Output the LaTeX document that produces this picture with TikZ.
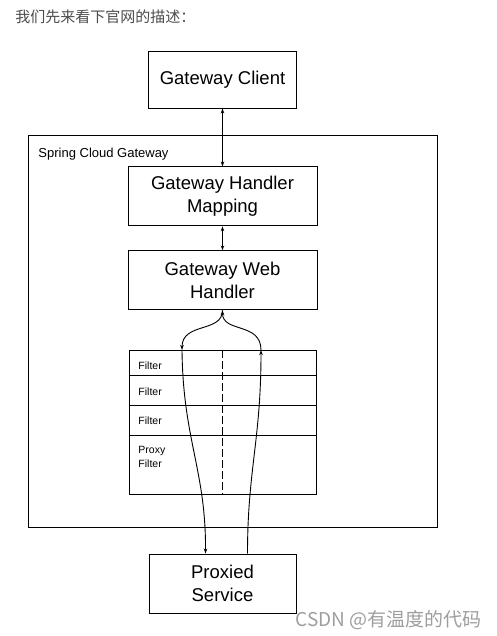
\documentclass[tikz,border=0pt]{standalone}
\usepackage{fontspec}
\setmainfont{Liberation Sans}
\newfontfamily\cjk{Noto Sans CJK SC}
\usetikzlibrary{arrows.meta,positioning}

\begin{document}
\begin{tikzpicture}[
  x=1pt,y=-1pt,line width=0.9pt,
  box/.style={draw,align=center,minimum width=148pt,minimum height=57pt,
              inner sep=2pt,font=\fontsize{18.5}{23}\selectfont},
  wide/.style={box,minimum width=189pt,minimum height=59pt},
  row/.style={draw,minimum width=187pt,inner sep=0pt,outer sep=0pt},
  lbl/.style={anchor=base west,inner sep=0pt,font=\fontsize{10.5}{14}\selectfont},
  ar/.style={-{Stealth[length=5pt,width=3.5pt]}},
  dar/.style={{Stealth[length=5pt,width=3.5pt]}-{Stealth[length=5pt,width=3.5pt]}}
]
\useasboundingbox (0,0) rectangle (497,636);

\node[anchor=base west,inner sep=0pt,text=black!70,
      font=\cjk\fontsize{15}{18}\selectfont] (title) at (15,23) {我们先来看下官网的描述：};

\node[box] (client) at (222.5,79.5) {Gateway Client};
\node[draw,minimum width=409pt,minimum height=392pt] (scg) at (232.5,331) {};
\node[lbl,font=\fontsize{13}{15}\selectfont] (scglbl) at (38,158) {Spring Cloud Gateway};
\node[wide,below=58pt of client] (mapping) {Gateway Handler\\Mapping};
\node[wide,below=24pt of mapping] (web) {Gateway Web\\Handler};

% filter chain
\node[row,minimum height=25pt,anchor=north] (f1) at (222.5,350) {};
\node[row,minimum height=30pt,below=0pt of f1] (f2) {};
\node[row,minimum height=30pt,below=0pt of f2] (f3) {};
\node[row,minimum height=59pt,below=0pt of f3] (f4) {};
\node[lbl] (t1) at (138,369) {Filter};
\node[lbl] (t2) at (138,395) {Filter};
\node[lbl] (t3) at (138,424) {Filter};
\node[lbl,anchor=north west,align=left] (t4) at (138,446) {Proxy\\Filter};
\draw[dash pattern=on 8pt off 3pt] (f1.north) -- (f4.south);

\node[box,minimum width=147pt,minimum height=59pt] (proxied) at (222.5,583.5) {Proxied\\Service};

\coordinate (inL) at (182,350);
\coordinate (inR) at (261,350);

\draw[dar] (client.south) -- (mapping.north);
\draw[dar] (mapping.south) -- (web.north);
\draw[ar] (web.south) .. controls (222.5,333) and (182,322) .. (inL);
\draw[ar] (inR) .. controls (261,322) and (222.5,333) .. (web.south);
\draw[ar] (inL) .. controls (183,440) and (206,470) .. ([xshift=-17pt]proxied.north);
\draw[ar] ([xshift=25pt]proxied.north) .. controls (247.5,470) and (261,440) .. (inR);

\node[anchor=base east,inner sep=0pt,text=black!38,
      font=\cjk\fontsize{19}{22}\selectfont] (mark) at (482,626) {CSDN @有温度的代码};
\end{tikzpicture}
\end{document}
